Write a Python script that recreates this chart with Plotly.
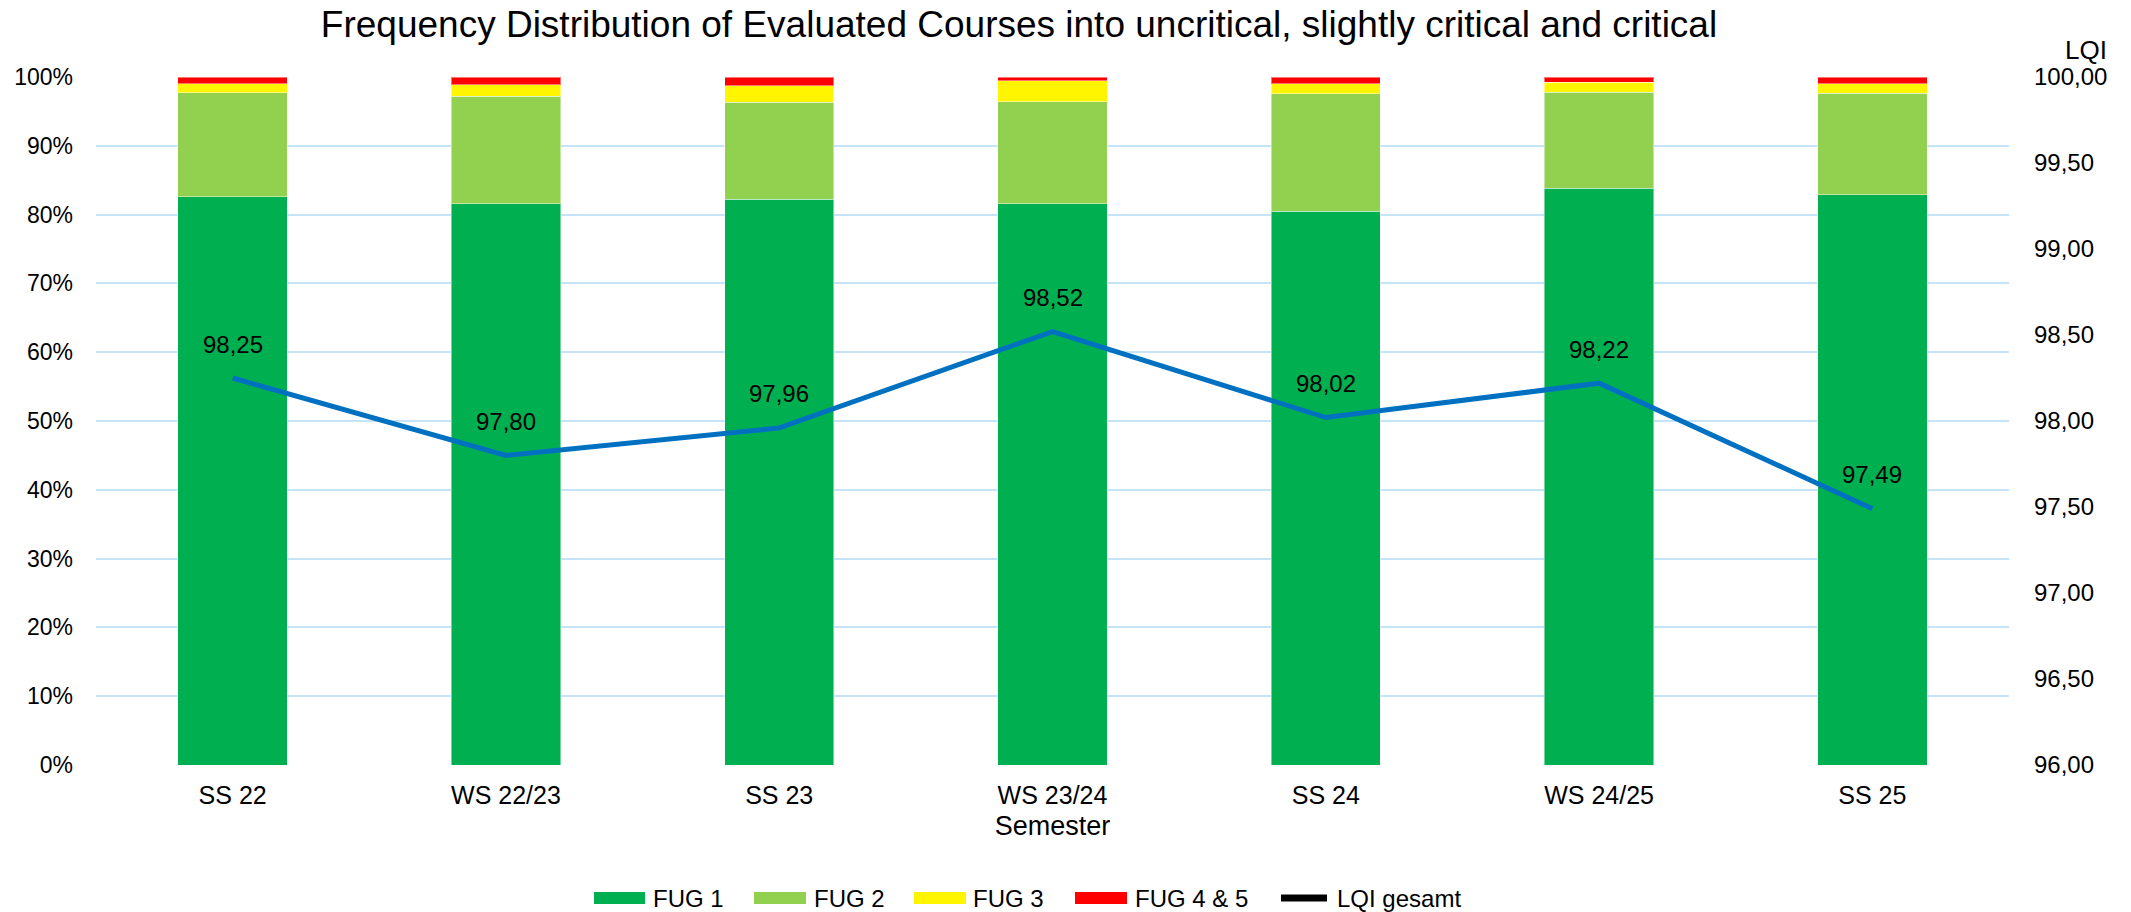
import plotly.graph_objects as go

# Semester categories and shares (percent of evaluated courses)
semesters = ["SS 22", "WS 22/23", "SS 23", "WS 23/24", "SS 24", "WS 24/25", "SS 25"]
fug1 = [82.6, 81.6, 82.2, 81.55, 80.5, 83.8, 82.9]
fug2 = [15.1, 15.6, 14.1, 14.83, 17.05, 14.0, 14.75]
fug3 = [1.3, 1.64, 2.46, 3.04, 1.45, 1.45, 1.35]
fug45 = [1.0, 1.16, 1.24, 0.58, 1.0, 0.75, 1.0]

# Overall LQI per semester (secondary axis)
lqi = [98.25, 97.80, 97.96, 98.52, 98.02, 98.22, 97.49]

left_ticks = [0, 10, 20, 30, 40, 50, 60, 70, 80, 90, 100]
left_labels = [f"{t}%" for t in left_ticks]
right_ticks = [96.0, 96.5, 97.0, 97.5, 98.0, 98.5, 99.0, 99.5, 100.0]

series = [
    ("FUG 1", fug1, "#00B050"),
    ("FUG 2", fug2, "#92D050"),
    ("FUG 3", fug3, "#FFF500"),
    ("FUG 4 & 5", fug45, "#FF0000"),
]

FONT = "Liberation Sans, Arial, sans-serif"
W, H = 2131, 912
L, R, T, B = 96, 122, 77, 147


def px_x(p):
    return (p - L) / (W - L - R)


def px_y(p):
    return (H - B - p) / (H - T - B)


fig = go.Figure()
for name, vals, color in series:
    fig.add_trace(go.Bar(
        x=semesters, y=vals, name=name,
        marker=dict(color=color, line=dict(color="rgba(255,255,255,0.45)", width=1)),
        showlegend=False, yaxis="y",
    ))

fig.add_trace(go.Scatter(
    x=semesters, y=lqi, name="LQI gesamt", mode="lines",
    line=dict(color="#0070C0", width=5),
    showlegend=False, yaxis="y2",
))

# Value labels above the LQI line
annotations = []
for s, v in zip(semesters, lqi):
    annotations.append(dict(
        x=s, y=v, xref="x", yref="y2", text=f"{v:.2f}".replace(".", ","),
        showarrow=False, yshift=34, font=dict(family=FONT, size=24, color="#000000"),
    ))

# Secondary axis caption
annotations.append(dict(
    x=px_x(2086), y=px_y(50), xref="paper", yref="paper", text="LQI",
    showarrow=False, xanchor="center", yanchor="middle",
    font=dict(family=FONT, size=26, color="#000000"),
))

# Legend drawn along the bottom
shapes = []
leg_y = 898
legend_items = [
    ("FUG 1", "#00B050", 594, 645, 651, "rect"),
    ("FUG 2", "#92D050", 754, 806, 812, "rect"),
    ("FUG 3", "#FFF500", 914, 966, 971, "rect"),
    ("FUG 4 & 5", "#FF0000", 1075, 1127, 1133, "rect"),
    ("LQI gesamt", "#000000", 1278, 1330, 1335, "line"),
]

for label, color, x0, x1, tx, kind in legend_items:
    if kind == "rect":
        shapes.append(dict(
            type="rect", xref="paper", yref="paper",
            x0=px_x(x0), x1=px_x(x1), y0=px_y(leg_y + 6), y1=px_y(leg_y - 6),
            fillcolor=color, line=dict(width=0),
        ))
    else:
        shapes.append(dict(
            type="line", xref="paper", yref="paper",
            x0=px_x(x0 + 3), x1=px_x(x1 - 3), y0=px_y(leg_y), y1=px_y(leg_y),
            line=dict(color=color, width=7),
        ))
    annotations.append(dict(
        x=px_x(tx), y=px_y(leg_y), xref="paper", yref="paper", text=label,
        showarrow=False, xanchor="left", yanchor="middle",
        font=dict(family=FONT, size=24, color="#000000"),
    ))

fig.update_layout(
    width=W, height=H,
    margin=dict(l=L, r=R, t=T, b=B),
    barmode="stack", bargap=0.6,
    separators=",.",
    paper_bgcolor="white", plot_bgcolor="white",
    font=dict(family=FONT, color="#000000"),
    title=dict(
        text="Frequency Distribution of Evaluated Courses into uncritical, slightly critical and critical",
        x=1019 / W, y=1 - 24 / H, xref="container", yref="container",
        xanchor="center", yanchor="middle",
        font=dict(family=FONT, size=37, color="#000000"),
    ),
    xaxis=dict(
        title=dict(text="Semester", font=dict(size=27), standoff=8),
        tickfont=dict(size=25), ticks="", ticklabelstandoff=13,
        showline=False, showgrid=False,
    ),
    yaxis=dict(
        range=[0, 100], tickmode="array", tickvals=left_ticks, ticktext=left_labels,
        tickfont=dict(size=23), ticks="", ticklabelstandoff=22,
        showgrid=True, gridcolor="#C6E4F8", gridwidth=2, zeroline=False,
        showline=False,
    ),
    yaxis2=dict(
        range=[96, 100], tickmode="array", tickvals=right_ticks, tickformat=".2f",
        overlaying="y", side="right",
        tickfont=dict(size=24), ticks="", ticklabelstandoff=24,
        showgrid=False, zeroline=False, showline=False,
    ),
    annotations=annotations,
    shapes=shapes,
    showlegend=False,
)

fig.write_html("out.html")
